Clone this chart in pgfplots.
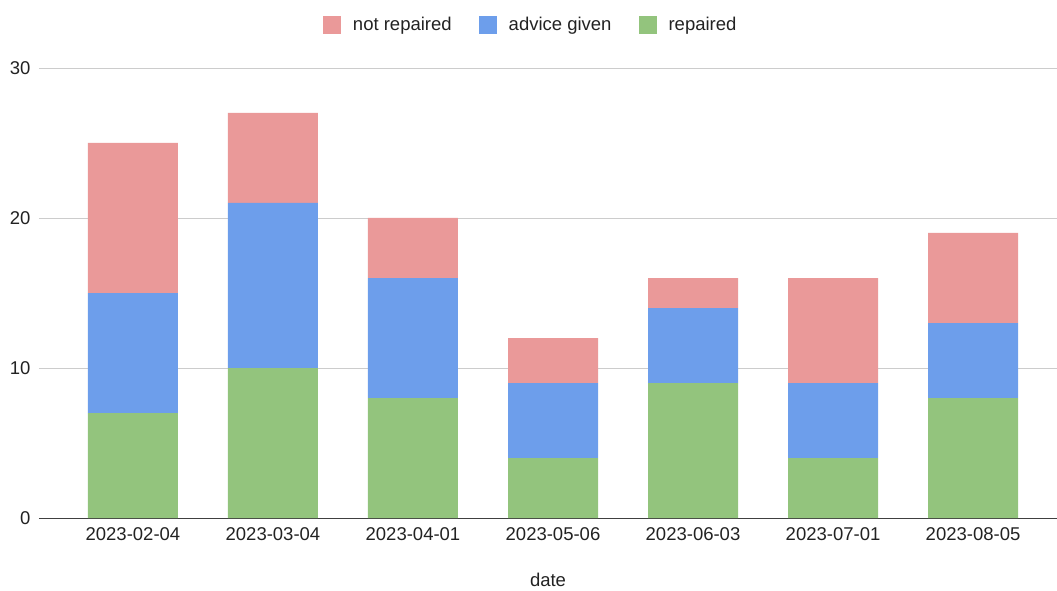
\documentclass[border=0pt]{standalone}
\usepackage{pgfplots}
\pgfplotsset{compat=1.18}
\usepackage{fontspec}
\setmainfont{Liberation Sans}
\definecolor{notrep}{HTML}{EA9999}
\definecolor{advice}{HTML}{6D9EEB}
\definecolor{repd}{HTML}{93C47D}
\definecolor{txt}{HTML}{222222}

\pgfplotstableread{
x repaired advice notrepaired
0 7 8 10
1 10 11 6
2 8 8 4
3 4 5 3
4 9 5 2
5 4 5 7
6 8 5 6
}\repairs

\begin{document}
\begin{tikzpicture}[x=1pt,y=1pt]
\useasboundingbox (0,0) rectangle (1057,590);
\begin{axis}[
  at={(39pt,72pt)}, anchor=south west,
  scale only axis, width=1018pt, height=450pt,
  ybar stacked, bar width=90pt,
  xmin=-0.671, xmax=6.6,
  ymin=0, ymax=30,
  ytick={0,10,20,30},
  xtick={0,...,6},
  xticklabels={2023-02-04,2023-03-04,2023-04-01,2023-05-06,2023-06-03,2023-07-01,2023-08-05},
  /pgf/number format/assume math mode=true,
  tick label style={font=\fontsize{18.5}{20}\selectfont, text=txt},
  xticklabel style={yshift=-6pt},
  yticklabel style={xshift=-5pt},
  major tick length=0pt,
  axis x line*=bottom,
  axis y line*=left,
  y axis line style={draw=none},
  x axis line style={draw=black!75, line width=1pt, -},
  ymajorgrids, grid style={draw=black!20, line width=0.9pt},
  xlabel={date},
  xlabel style={font=\fontsize{18.5}{20}\selectfont, text=txt, at={(axis description cs:0.5,-0.138)}, anchor=center},
  reverse legend,
  legend columns=3,
  legend style={at={(axis description cs:0.483,1.0956)}, anchor=center, draw=none, fill=none,
    font=\fontsize{18.5}{20}\selectfont, text=txt,
    /tikz/every odd column/.append style={column sep=10pt},
    /tikz/every even column/.append style={column sep=25pt}},
  legend image code/.code={\fill[#1] (0pt,-9pt) rectangle (18pt,9pt);},
]
\addplot[fill=repd, draw=none] table[x=x, y=repaired] {\repairs};
\addlegendentry{repaired}
\addplot[fill=advice, draw=none] table[x=x, y=advice] {\repairs};
\addlegendentry{advice given}
\addplot[fill=notrep, draw=none] table[x=x, y=notrepaired] {\repairs};
\addlegendentry{not repaired}
\end{axis}
\end{tikzpicture}
\end{document}
